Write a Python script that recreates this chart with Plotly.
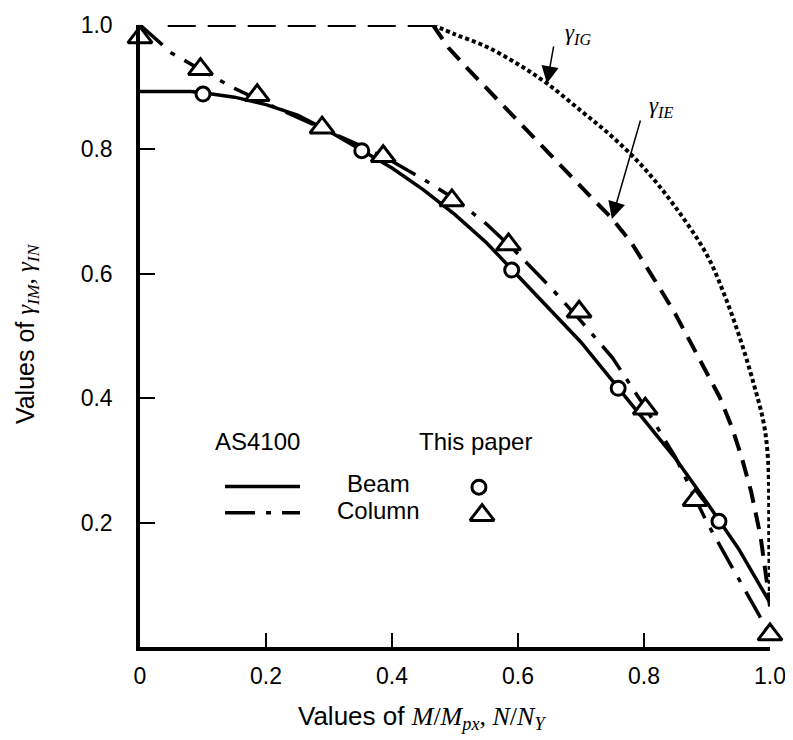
import plotly.graph_objects as go

# ---- data ----
beam_x = [0, 0.08, 0.10, 0.15, 0.20, 0.25, 0.30, 0.35, 0.40, 0.45, 0.50, 0.55, 0.60, 0.65, 0.70, 0.75, 0.80, 0.85, 0.90, 0.95, 1.00]
beam_y = [0.893, 0.893, 0.891, 0.884, 0.872, 0.855, 0.829, 0.799, 0.770, 0.735, 0.695, 0.650, 0.597, 0.545, 0.490, 0.428, 0.365, 0.303, 0.232, 0.158, 0.071]

col_x = [0, 0.05, 0.10, 0.15, 0.20, 0.25, 0.30, 0.35, 0.40, 0.45, 0.50, 0.55, 0.60, 0.65, 0.70, 0.75, 0.80, 0.85, 0.90, 0.95, 1.00]
col_y = [1.0, 0.955, 0.926, 0.898, 0.874, 0.851, 0.829, 0.806, 0.781, 0.752, 0.720, 0.680, 0.632, 0.580, 0.524, 0.465, 0.388, 0.305, 0.200, 0.110, 0.020]

ie_flat_x = [0.044, 0.465]
ie_flat_y = [1.0, 1.0]
ie_x = [0.465, 0.49, 0.52, 0.55, 0.60, 0.65, 0.70, 0.75, 0.78, 0.82, 0.85, 0.88, 0.90, 0.92, 0.94, 0.955, 0.97, 0.985, 0.997, 1.0]
ie_y = [1.0, 0.963, 0.930, 0.898, 0.845, 0.792, 0.740, 0.688, 0.650, 0.585, 0.535, 0.478, 0.441, 0.402, 0.352, 0.305, 0.250, 0.178, 0.090, 0.065]

ig_x = [0.465, 0.50, 0.55, 0.60, 0.646, 0.70, 0.75, 0.80, 0.85, 0.90, 0.93, 0.955, 0.975, 0.99, 0.997, 0.999, 1.0]
ig_y = [1.0, 0.985, 0.965, 0.937, 0.906, 0.862, 0.820, 0.770, 0.707, 0.630, 0.560, 0.488, 0.420, 0.360, 0.300, 0.150, 0.065]

paper_beam_x = [0.100, 0.352, 0.590, 0.759, 0.919]
paper_beam_y = [0.889, 0.798, 0.606, 0.416, 0.202]

paper_col_x = [0.0, 0.096, 0.186, 0.289, 0.386, 0.495, 0.585, 0.697, 0.802, 0.881, 1.0]
paper_col_y = [0.980, 0.929, 0.887, 0.835, 0.789, 0.718, 0.647, 0.539, 0.383, 0.236, 0.020]

x_ticks = [0, 0.2, 0.4, 0.6, 0.8, 1.0]
x_ticktext = ["0", "0.2", "0.4", "0.6", "0.8", "1.0"]
y_ticks = [0.2, 0.4, 0.6, 0.8, 1.0]
y_ticktext = ["0.2", "0.4", "0.6", "0.8", "1.0"]

SANS = "Liberation Sans, Arial, sans-serif"
SERIF = "Liberation Serif, Times New Roman, serif"

fig = go.Figure()

# AS4100 curves
fig.add_trace(go.Scatter(x=beam_x, y=beam_y, mode="lines",
                         line=dict(color="black", width=3.5), cliponaxis=False, showlegend=False))
fig.add_trace(go.Scatter(x=col_x, y=col_y, mode="lines",
                         line=dict(color="black", width=3.5, dash="30px,11px,5px,11px"),
                         cliponaxis=False, showlegend=False))
# gamma_IE (dashed)
fig.add_trace(go.Scatter(x=ie_flat_x, y=ie_flat_y, mode="lines",
                         line=dict(color="black", width=4, dash="28px,12px"),
                         cliponaxis=False, showlegend=False))
fig.add_trace(go.Scatter(x=ie_x, y=ie_y, mode="lines",
                         line=dict(color="black", width=4, dash="17px,10px"),
                         cliponaxis=False, showlegend=False))
# gamma_IG (dotted)
fig.add_trace(go.Scatter(x=ig_x, y=ig_y, mode="lines", line_shape="spline",
                         line=dict(color="black", width=4, dash="4px,3px"),
                         cliponaxis=False, showlegend=False))

# This paper markers
fig.add_trace(go.Scatter(x=paper_beam_x, y=paper_beam_y, mode="markers",
                         marker=dict(symbol="circle", size=14, color="white",
                                     line=dict(color="black", width=3)),
                         cliponaxis=False, showlegend=False))
fig.add_trace(go.Scatter(x=paper_col_x, y=paper_col_y, mode="markers",
                         marker=dict(symbol="triangle-up", size=21, color="white",
                                     line=dict(color="black", width=3)),
                         cliponaxis=False, showlegend=False))

# legend samples
fig.add_trace(go.Scatter(x=[0.135, 0.254], y=[0.258, 0.258], mode="lines",
                         line=dict(color="black", width=3.5), showlegend=False))
fig.add_trace(go.Scatter(x=[0.135, 0.254], y=[0.216, 0.216], mode="lines",
                         line=dict(color="black", width=3.5, dash="30px,11px,5px,11px"),
                         showlegend=False))
fig.add_trace(go.Scatter(x=[0.538], y=[0.257], mode="markers",
                         marker=dict(symbol="circle", size=14, color="white",
                                     line=dict(color="black", width=3)), showlegend=False))
fig.add_trace(go.Scatter(x=[0.543], y=[0.212], mode="markers",
                         marker=dict(symbol="triangle-up", size=21, color="white",
                                     line=dict(color="black", width=3)), showlegend=False))

annotations = [
    dict(x=0.187, y=0.331, xref="x", yref="y", text="AS4100", showarrow=False,
         font=dict(family=SANS, size=24, color="black")),
    dict(x=0.533, y=0.331, xref="x", yref="y", text="This paper", showarrow=False,
         font=dict(family=SANS, size=24, color="black")),
    dict(x=0.378, y=0.263, xref="x", yref="y", text="Beam", showarrow=False,
         font=dict(family=SANS, size=24, color="black")),
    dict(x=0.378, y=0.219, xref="x", yref="y", text="Column", showarrow=False,
         font=dict(family=SANS, size=24, color="black")),
    # curve labels
    dict(x=0.695, y=0.985, xref="x", yref="y", text="<i>γ<sub>IG</sub></i>", showarrow=False,
         font=dict(family=SERIF, size=23, color="black")),
    dict(x=0.827, y=0.868, xref="x", yref="y", text="<i>γ<sub>IE</sub></i>", showarrow=False,
         font=dict(family=SERIF, size=23, color="black")),
    # arrows
    dict(x=0.646, y=0.906, ax=0.657, ay=0.968, xref="x", yref="y", axref="x", ayref="y",
         text="", showarrow=True, arrowhead=2, arrowsize=2.3, arrowwidth=1.5, arrowcolor="black",
         standoff=0, startstandoff=0),
    dict(x=0.749, y=0.688, ax=0.795, ay=0.849, xref="x", yref="y", axref="x", ayref="y",
         text="", showarrow=True, arrowhead=2, arrowsize=2.3, arrowwidth=1.5, arrowcolor="black",
         standoff=0, startstandoff=0),
    # axis titles
    dict(x=0.448, y=-0.113, xref="paper", yref="paper", xanchor="center", yanchor="middle",
         text="Values of <span style='font-family:Liberation Serif'><i>M</i>/<i>M<sub>px</sub></i>, <i>N</i>/<i>N<sub>Y</sub></i></span>",
         showarrow=False, font=dict(family=SANS, size=26, color="black")),
    dict(x=-0.180, y=0.504, xref="paper", yref="paper", xanchor="center", yanchor="middle",
         textangle=-90,
         text="Values of <span style='font-family:Liberation Serif'><i>γ<sub>IM</sub></i>, <i>γ<sub>IN</sub></i></span>",
         showarrow=False, font=dict(family=SANS, size=25, color="black")),
]

# page body has an 8px margin, so the figure is sized/margined to land the plot at 140..770 x 12..647
fig.update_layout(
    width=785, height=732,
    margin=dict(l=132, r=23, t=4, b=93),
    plot_bgcolor="white", paper_bgcolor="white",
    showlegend=False,
    annotations=annotations,
    xaxis=dict(range=[0, 1], tickvals=x_ticks, ticktext=x_ticktext,
               showgrid=False, zeroline=False, showline=True, linecolor="black", linewidth=3.5,
               ticks="inside", ticklen=14, tickwidth=1.5, tickcolor="black",
               ticklabelstandoff=6, ticklabeloverflow="allow",
               tickfont=dict(family=SANS, size=23, color="black")),
    yaxis=dict(range=[0, 1], tickvals=y_ticks, ticktext=y_ticktext,
               showgrid=False, zeroline=False, showline=True, linecolor="black", linewidth=3.5,
               ticks="inside", ticklen=15, tickwidth=1.5, tickcolor="black",
               ticklabelstandoff=19, ticklabeloverflow="allow",
               tickfont=dict(family=SANS, size=23, color="black")),
)

fig.write_html("out.html")
